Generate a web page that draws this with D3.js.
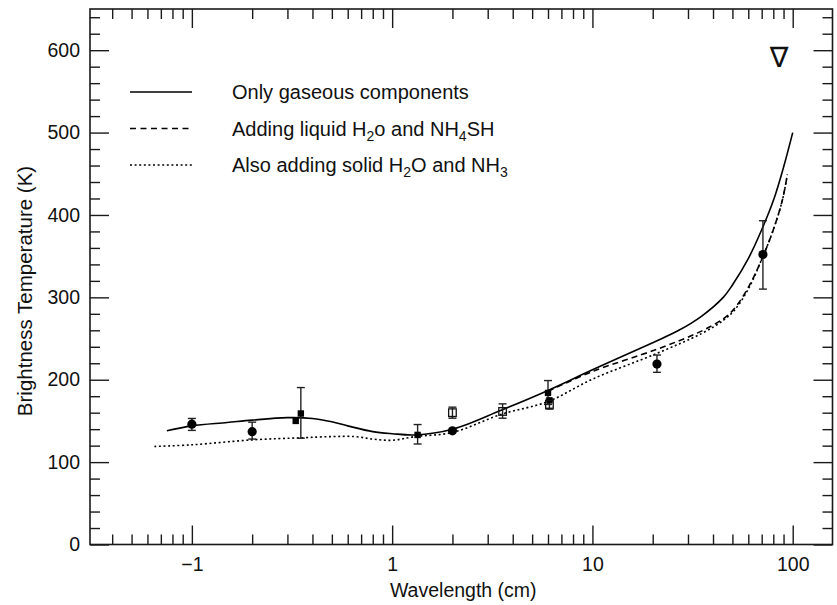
<!DOCTYPE html>
<html><head><meta charset="utf-8">
<script src="https://cdn.jsdelivr.net/npm/d3@7"></script>
<style>
body{margin:0;background:#fff}
text{font-family:"Liberation Sans",Arial,Helvetica,sans-serif;fill:#111}
</style>
</head><body>
<svg id="c" width="837" height="605"></svg>
<script>
// ---- data ----
const gasWl  = [0.075, 0.1, 0.15, 0.2, 0.3, 0.4, 0.5, 0.6, 0.8, 1.0, 1.3, 2, 3.5, 6, 10, 20, 27, 35, 45, 50, 60, 70, 80.7, 90, 100];
const gasT   = [138, 144, 148, 151, 154, 153, 149, 144, 137, 134.5, 133, 140, 163, 187, 212, 245, 260, 277, 300, 315, 347, 382, 420, 458, 500];
const liqWl  = [6, 10, 21, 35, 45, 51, 60, 70, 80, 88.8, 94];
const liqT   = [186, 210, 237, 259, 274, 286, 312, 346, 382, 418, 449];
const solWl  = [0.065, 0.1, 0.2, 0.35, 0.5, 0.65, 0.8, 1.0, 1.3, 2, 3.5, 6, 10, 21, 35, 45, 51, 60, 70, 80, 88.8, 94];
const solT   = [119, 121, 127, 129.5, 131, 131, 128, 126.5, 131, 136, 158, 173.5, 200.7, 232, 256, 272, 284, 310, 346, 382, 418, 449];

const circWl = [0.1, 0.2, 2.0, 21, 71];
const circT  = [146, 137, 138, 219, 352];
const circLo = [138.5, 128, 138, 209, 310];
const circHi = [153, 148.5, 138, 230, 393];

const fsqWl = [0.33, 0.35, 1.34, 6.0, 6.1];
const fsqT  = [150, 159, 133, 184, 175];
const fsqLo = [150, 129, 122, 170, 175];
const fsqHi = [150, 190.5, 145.6, 199, 175];

const osqWl = [2.0, 3.56, 6.1];
const osqT  = [160, 161.5, 170];
const osqLo = [153.3, 153.3, 164.3];
const osqHi = [166.7, 170.7, 176.4];

const xMajor = [0.1, 1, 10, 100];
const xLabels = ["\u22121", "1", "10", "100"];
const yMajor = [0, 100, 200, 300, 400, 500, 600];

const legendLabels = ["Only gaseous components", "Adding liquid H|2|o and NH|4|SH", "Also adding solid H|2|O and NH|3|"];

// ---- layout ----
const L = 90, R = 832.5, T = 9, B = 544.5;
const svg = d3.select("#c");
const x = d3.scaleLog().domain([0.031, 158]).range([L, R]);
const y = d3.scaleLinear().domain([0, 650]).range([B, T]);

const xMinor = [];
[0.01, 0.1, 1, 10, 100].forEach(d => { for (let k = 2; k <= 9; k++) { const v = d * k; if (v > 0.031 && v < 158) xMinor.push(v); } });
const yMinor = d3.range(20, 650, 20).filter(v => v % 100 !== 0);

const ink = "#1a1a1a";
function axis(gen, vals, size, tx, ty, labels) {
  const g = svg.append("g").attr("transform", `translate(${tx},${ty})`)
    .call(gen.tickValues(vals).tickSizeInner(size).tickSizeOuter(0).tickPadding(labels ? 10 : 0)
      .tickFormat(labels ? labels : () => ""));
  g.select(".domain").remove();
  g.selectAll("line").attr("stroke", ink).attr("stroke-width", 1.4);
  g.selectAll("text").style("font-size", "19.5px").attr("fill", "#111");
  return g;
}
// bottom
axis(d3.axisBottom(x), xMajor, -19, 0, B, (d, i) => xLabels[i]).selectAll("text").attr("dy", "0.71em").attr("y", 13);
axis(d3.axisBottom(x), xMinor, -10, 0, B, null);
// top
axis(d3.axisTop(x), xMajor, -19, 0, T, null);
axis(d3.axisTop(x), xMinor, -10, 0, T, null);
// left
axis(d3.axisLeft(y), yMajor, -19, L, 0, d => d).selectAll("text").attr("x", -10);
axis(d3.axisLeft(y), yMinor, -10, L, 0, null);
// right
axis(d3.axisRight(y), yMajor, -19, R, 0, null);
axis(d3.axisRight(y), yMinor, -10, R, 0, null);

// frame
svg.append("rect").attr("x", L).attr("y", T).attr("width", R - L).attr("height", B - T)
  .attr("fill", "none").attr("stroke", ink).attr("stroke-width", 1.6);

// titles
svg.append("text").attr("x", (L + R) / 2 + 2).attr("y", 597).attr("text-anchor", "middle")
  .style("font-size", "19.5px").text("Wavelength (cm)");
svg.append("text").attr("transform", "translate(32,291) rotate(-90)").attr("text-anchor", "middle")
  .style("font-size", "20.5px").text("Brightness Temperature (K)");

// curves
const line = d3.line().x(d => x(d[0])).y(d => y(d[1])).curve(d3.curveCatmullRom.alpha(0.5));
const series = [
  {wl: gasWl, t: gasT, dash: null},
  {wl: liqWl, t: liqT, dash: "6,4"},
  {wl: solWl, t: solT, dash: "2,2.6"}
];
series.forEach(s => {
  svg.append("path").datum(s.wl.map((w, i) => [w, s.t[i]]))
    .attr("d", line).attr("fill", "none").attr("stroke", "#000").attr("stroke-width", 1.6)
    .attr("stroke-dasharray", s.dash);
});

// error bars
function errbars(wl, lo, hi) {
  wl.forEach((w, i) => {
    if (lo[i] === hi[i]) return;
    const cx = x(w), y1 = y(lo[i]), y2 = y(hi[i]);
    const g = svg.append("g").attr("stroke", "#222").attr("stroke-width", 1.4);
    g.append("line").attr("x1", cx).attr("x2", cx).attr("y1", y1).attr("y2", y2);
    g.append("line").attr("x1", cx - 4).attr("x2", cx + 4).attr("y1", y1).attr("y2", y1);
    g.append("line").attr("x1", cx - 4).attr("x2", cx + 4).attr("y1", y2).attr("y2", y2);
  });
}
errbars(circWl, circLo, circHi);
errbars(fsqWl, fsqLo, fsqHi);
errbars(osqWl, osqLo, osqHi);

svg.append("g").selectAll("circle").data(circWl).join("circle")
  .attr("cx", d => x(d)).attr("cy", (d, i) => y(circT[i])).attr("r", 4.6).attr("fill", "#000");
svg.append("g").selectAll("rect").data(fsqWl).join("rect")
  .attr("x", d => x(d) - 3.2).attr("y", (d, i) => y(fsqT[i]) - 3.2).attr("width", 6.4).attr("height", 6.4).attr("fill", "#000");
svg.append("g").selectAll("rect").data(osqWl).join("rect")
  .attr("x", d => x(d) - 3.8).attr("y", (d, i) => y(osqT[i]) - 3.8).attr("width", 7.6).attr("height", 7.6)
  .attr("fill", "none").attr("stroke", "#111").attr("stroke-width", 1.3);

// legend
const legY = [92, 128.5, 165];
const legDash = [null, "6,4.5", "2,2.6"];
legendLabels.forEach((lab, i) => {
  svg.append("line").attr("x1", 130).attr("x2", 192).attr("y1", legY[i]).attr("y2", legY[i])
    .attr("stroke", "#000").attr("stroke-width", 1.4).attr("stroke-dasharray", legDash[i]);
  const t = svg.append("text").attr("x", 232).attr("y", legY[i] + 7).style("font-size", "20px");
  lab.split("|").forEach((part, j) => {
    if (j % 2 === 1) t.append("tspan").attr("dy", 5).style("font-size", "14px").text(part);
    else t.append("tspan").attr("dy", j === 0 ? 0 : -5).text(part);
  });
});

// nabla symbol
svg.append("text").attr("x", 779).attr("y", 67).attr("text-anchor", "middle")
  .style("font-family", "'Liberation Serif', 'DejaVu Sans', serif").style("font-size", "28px").text("\u2207");
</script>
</body></html>
